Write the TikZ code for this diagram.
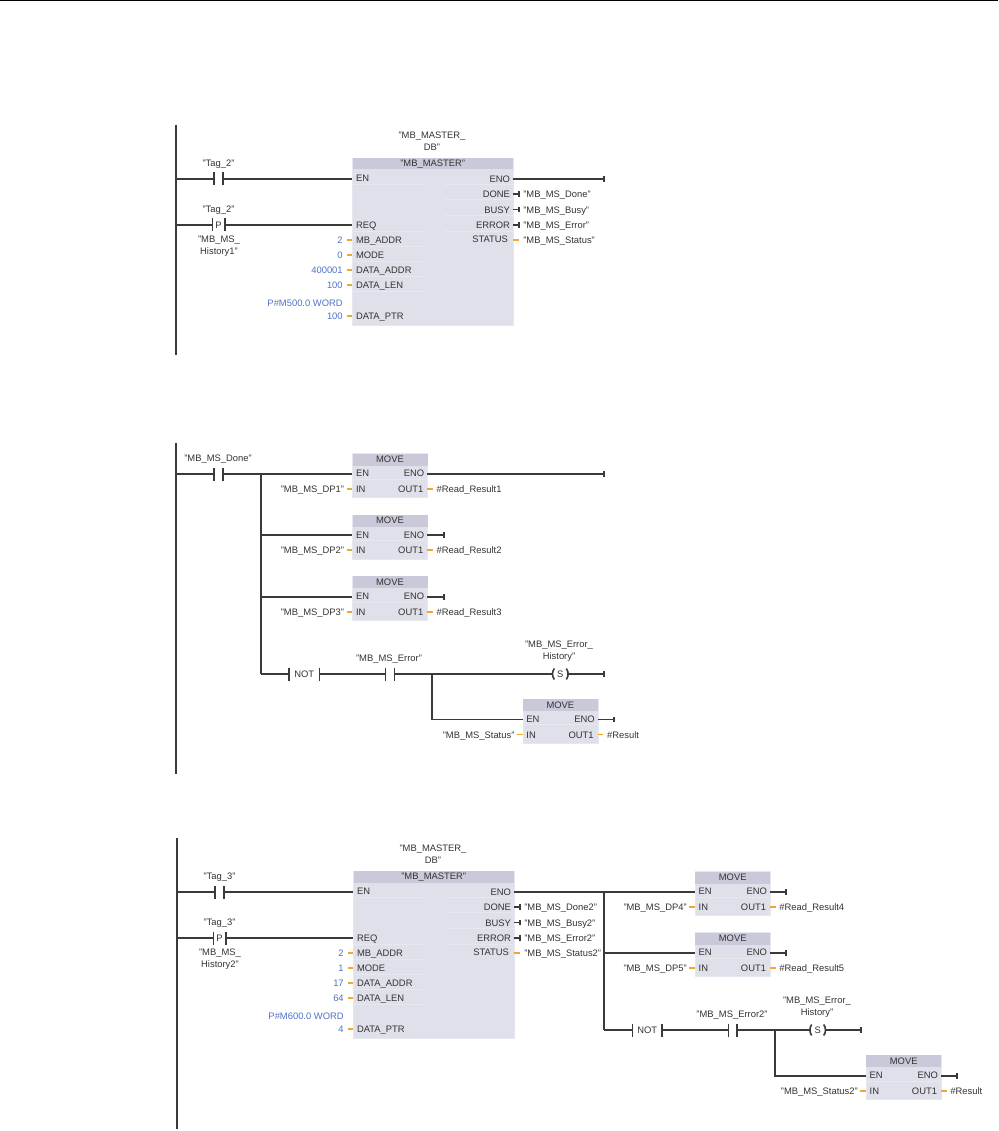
\documentclass[tikz,border=0pt]{standalone}
\usepackage{fontspec}
\setmainfont{Liberation Sans}
\definecolor{wirec}{HTML}{3A3A3A}
\definecolor{textc}{HTML}{333333}
\definecolor{bodyc}{HTML}{E0E0EA}
\definecolor{headc}{HTML}{C9C9D9}
\definecolor{sepc}{HTML}{E7E7EF}
\definecolor{valc}{HTML}{4F72C8}
\definecolor{pinc}{HTML}{F4A62A}
\tikzset{
  lbl/.style={inner sep=0pt,outer sep=0pt,text=textc,font=\fontsize{9.4}{11.7}\selectfont,align=center},
  vallbl/.style={lbl,text=valc},
  wire/.style={draw=wirec,line width=1.8pt},
  railline/.style={draw=wirec,line width=1.6pt},
  barline/.style={draw=wirec,line width=1.6pt},
  pinline/.style={draw=pinc,line width=1.6pt},
  sepline/.style={draw=sepc,line width=0.8pt},
  blockbody/.style={fill=bodyc,draw=sepc,line width=0.6pt,inner sep=0pt,anchor=north west},
  blockhead/.style={fill=headc,draw=none,inner sep=0pt,anchor=north west,text=textc,font=\fontsize{9.4}{11}\selectfont},
  contactbox/.style={inner sep=0pt,outer sep=0pt,minimum height=13pt,text=textc,font=\fontsize{9.4}{11}\selectfont},
  coilbox/.style={inner sep=0pt,outer sep=0pt,minimum width=12pt,minimum height=11pt,text=textc,font=\fontsize{9.4}{11}\selectfont}
}
\newcommand{\stub}[1]{\draw[barline,line width=1.3pt] ([yshift=-2.8pt]#1) -- ([yshift=2.8pt]#1);}
\newcommand{\barsof}[1]{%
  \draw[barline] (#1.north west) -- (#1.south west);
  \draw[barline] (#1.north east) -- (#1.south east);}
\newcommand{\parensof}[1]{%
  \draw[barline] (#1.north west) to[bend right=35] (#1.south west);
  \draw[barline] (#1.north east) to[bend left=35] (#1.south east);}
% input row of the master block: name, y, value, port
\newcommand{\inrow}[4]{%
  \node[vallbl,anchor=mid east] (#1v) at (342.7,#2+1) {#3};
  \node[lbl,anchor=mid west] (#1p) at (356,#2+1) {#4};
  \coordinate (#1a) at (346.7,#2);
  \coordinate (#1b) at (352.3,#2);
  \draw[pinline] (#1a) -- (#1b);}
% output row of the master block: name, y, port, tag
\newcommand{\outrow}[4]{%
  \node[lbl,anchor=mid east] (#1p) at (510,#2+1) {#3};
  \node[lbl,anchor=mid west] (#1v) at (523.3,#2+1) {#4};
  \coordinate (#1a) at (513,#2);
  \coordinate (#1b) at (519,#2);
  \draw[wire,line width=1.3pt] (#1a) -- (#1b);
  \stub{#1b}}
% name, x, y, in, out, length of the ENO wire
\newcommand{\moveblock}[6]{%
\begin{scope}[shift={(#2,#3)},name prefix=#1-]
  \node[blockbody,minimum width=75pt,minimum height=44pt] (box) at (0,0) {};
  \node[blockhead,minimum width=75pt,minimum height=12pt] (head) at (0,0) {\raisebox{-0.8pt}{MOVE}};
  \coordinate (sa) at (0,26); \coordinate (sb) at (75,26);
  \draw[sepline] (sa) -- (sb);
  \coordinate (en) at (0,20.7);
  \coordinate (eno) at (75,20.7);
  \coordinate (end) at (#6,20.7);
  \node[lbl,anchor=mid west] (enl) at (3.7,21) {EN};
  \node[lbl,anchor=mid east] (enol) at (72,21) {ENO};
  \node[lbl,anchor=mid west] (inl) at (3.7,36.7) {IN};
  \node[lbl,anchor=mid east] (outl) at (71,36.7) {OUT1};
  \node[lbl,anchor=mid east] (inv) at (-8.3,36.7) {#4};
  \node[lbl,anchor=mid west] (outv) at (84.4,36.7) {#5};
  \coordinate (ia) at (-5.7,35.7); \coordinate (ib) at (0,35.7);
  \coordinate (oa) at (75,35.7); \coordinate (ob) at (80.5,35.7);
  \draw[pinline] (ia) -- (ib);
  \draw[pinline] (oa) -- (ob);
  \draw[wire] (eno) -- (end);
  \stub{end}
\end{scope}}
% prefix, dx, dy, tag, history no, mode, addr, len, ptr word; \outsuf and \ptrval set before
\newcommand{\masterblock}[9]{%
\begin{scope}[shift={(#2,#3)},name prefix=#1-]
  \node[blockbody,minimum width=160.4pt,minimum height=167.3pt] (box) at (352.3,157.7) {};
  \node[blockhead,minimum width=160.4pt,minimum height=11.6pt] (head) at (352.3,157.7) {\raisebox{-0.8pt}{"MB\_MASTER"}};
  \foreach \yy in {184,231,246,261,276,291}{\draw[sepline] (352.3,\yy) -- (425,\yy);}
  \foreach \yy in {184,199,215,231}{\draw[sepline] (445,\yy) -- (512.7,\yy);}
  \node[lbl] (inst) at (432,141) {"MB\_MASTER\_\\DB"};
  \node[lbl] (tagA) at (218.5,164) {"#4"};
  \node[contactbox,minimum width=9pt] (cA) at (218.5,179) {};
  \barsof{cA}
  \node[lbl] (tagB) at (218.5,210) {"#4"};
  \node[contactbox,minimum width=12.4pt] (cB) at (218.5,225) {P};
  \barsof{cB}
  \node[lbl] (hist) at (219,246) {"MB\_MS\_\\History#5"};
  \coordinate (r1) at (175.7,179);
  \coordinate (r2) at (175.7,225);
  \coordinate (en) at (352.3,179);
  \coordinate (req) at (352.3,225);
  \coordinate (eno) at (512.7,179);
  \draw[wire] (r1) -- (cA.west);
  \draw[wire] (cA.east) -- (en);
  \draw[wire] (r2) -- (cB.west);
  \draw[wire] (cB.east) -- (req);
  \node[lbl,anchor=mid west] (enl) at (356,179) {EN};
  \node[lbl,anchor=mid west] (reql) at (356,225.5) {REQ};
  \node[lbl,anchor=mid east] (enol) at (510,180) {ENO};
  \inrow{ma}{240}{2}{MB\_ADDR}
  \inrow{mo}{255}{#6}{MODE}
  \inrow{da}{270}{#7}{DATA\_ADDR}
  \inrow{dl}{285}{#8}{DATA\_LEN}
  \inrow{dp}{316}{\ptrval}{DATA\_PTR}
  \node[vallbl,anchor=mid east] (ptrw) at (342.7,304) {#9};
  \outrow{od}{194}{DONE}{"MB\_MS\_Done\outsuf"}
  \outrow{ob}{209.5}{BUSY}{"MB\_MS\_Busy\outsuf"}
  \outrow{oe}{225}{ERROR}{"MB\_MS\_Error\outsuf"}
  \node[lbl,anchor=mid east] (stl) at (508,239.5) {STATUS};
  \node[lbl,anchor=mid west] (stv) at (523.3,240.5) {"MB\_MS\_Status\outsuf"};
  \coordinate (sa) at (513,240); \coordinate (sb) at (519,240);
  \draw[pinline] (sa) -- (sb);
\end{scope}}
\begin{document}
\begin{tikzpicture}[x=1pt,y=-1pt]
\useasboundingbox (0,0) rectangle (998,1131);
\coordinate (topl) at (0,0.5); \coordinate (topr) at (998,0.5);
\draw[draw=black,line width=1pt] (topl) -- (topr);

% ---------- network 1
\coordinate (ra) at (175.7,125); \coordinate (rb) at (175.7,355);
\draw[railline] (ra) -- (rb);
\def\outsuf{}\def\ptrval{100}
\masterblock{a}{0}{0}{Tag\_2}{1}{0}{400001}{100}{P\#M500.0 WORD}
\coordinate (aend) at (604,179);
\draw[wire] (a-eno) -- (aend);
\stub{aend}

% ---------- network 2
\coordinate (rc) at (175.7,443); \coordinate (rd) at (175.7,774);
\draw[railline] (rc) -- (rd);
\coordinate (r2a) at (175.7,474);
\node[lbl] (doneL) at (218,459) {"MB\_MS\_Done"};
\node[contactbox,minimum width=9pt] (c1) at (218.5,474) {};
\barsof{c1}
\coordinate (b1) at (261,474);
\coordinate (b2) at (261,535.2);
\coordinate (b3) at (261,596.7);
\coordinate (b4) at (261,674);
\moveblock{m1}{352.3}{453.3}{"MB\_MS\_DP1"}{\#Read\_Result1}{251.7}
\moveblock{m2}{352.3}{514.5}{"MB\_MS\_DP2"}{\#Read\_Result2}{91.7}
\moveblock{m3}{352.3}{576}{"MB\_MS\_DP3"}{\#Read\_Result3}{91.7}
\draw[wire] (r2a) -- (c1.west);
\draw[wire] (c1.east) -- (b1) -- (m1-en);
\draw[wire] (b1) -- (b4);
\draw[wire] (b2) -- (m2-en);
\draw[wire] (b3) -- (m3-en);
\node[contactbox,minimum width=30.3pt] (n1) at (304.2,674) {NOT};
\barsof{n1}
\node[lbl] (errL) at (389,659) {"MB\_MS\_Error"};
\node[contactbox,minimum width=9pt] (c2) at (389.8,674) {};
\barsof{c2}
\node[lbl] (histL) at (559,651.5) {"MB\_MS\_Error\_\\History"};
\node[coilbox] (s1) at (560.3,674) {S};
\parensof{s1}
\coordinate (s1end) at (604,674);
\coordinate (b5) at (432,674);
\coordinate (b6) at (432,719.4);
\moveblock{m4}{522.7}{698.7}{"MB\_MS\_Status"}{\#Result}{91.3}
\draw[wire] (b4) -- (n1.west);
\draw[wire] (n1.east) -- (c2.west);
\draw[wire] (c2.east) -- ([xshift=-1pt]s1.west);
\draw[wire] ([xshift=1pt]s1.east) -- (s1end);
\stub{s1end}
\draw[wire] (b5) -- (b6) -- (m4-en);

% ---------- network 3
\coordinate (re) at (176.7,838); \coordinate (rf) at (176.7,1129);
\draw[railline] (re) -- (rf);
\def\outsuf{2}\def\ptrval{4}
\masterblock{b}{1}{713}{Tag\_3}{2}{1}{17}{64}{P\#M600.0 WORD}
\moveblock{m5}{695}{871.3}{"MB\_MS\_DP4"}{\#Read\_Result4}{91}
\moveblock{m6}{695}{932.3}{"MB\_MS\_DP5"}{\#Read\_Result5}{91}
\coordinate (d1) at (604,892);
\coordinate (d2) at (604,953);
\coordinate (d3) at (604,1030);
\draw[wire] (b-eno) -- (d1) -- (m5-en);
\draw[wire] (d1) -- (d3);
\draw[wire] (d2) -- (m6-en);
\node[contactbox,minimum width=29.7pt] (n2) at (647.2,1030) {NOT};
\barsof{n2}
\node[lbl] (err2L) at (732,1015) {"MB\_MS\_Error2"};
\node[contactbox,minimum width=8.4pt] (c3) at (732.5,1030) {};
\barsof{c3}
\node[lbl] (hist2L) at (817,1007.5) {"MB\_MS\_Error\_\\History"};
\node[coilbox] (s2) at (817.7,1030) {S};
\parensof{s2}
\coordinate (s2end) at (861,1030);
\coordinate (d4) at (774.7,1030);
\coordinate (d5) at (774.7,1075.7);
\moveblock{m7}{866}{1055}{"MB\_MS\_Status2"}{\#Result}{91}
\draw[wire] (d3) -- (n2.west);
\draw[wire] (n2.east) -- (c3.west);
\draw[wire] (c3.east) -- ([xshift=-1pt]s2.west);
\draw[wire] ([xshift=1pt]s2.east) -- (s2end);
\stub{s2end}
\draw[wire] (d4) -- (d5) -- (m7-en);
\end{tikzpicture}
\end{document}
